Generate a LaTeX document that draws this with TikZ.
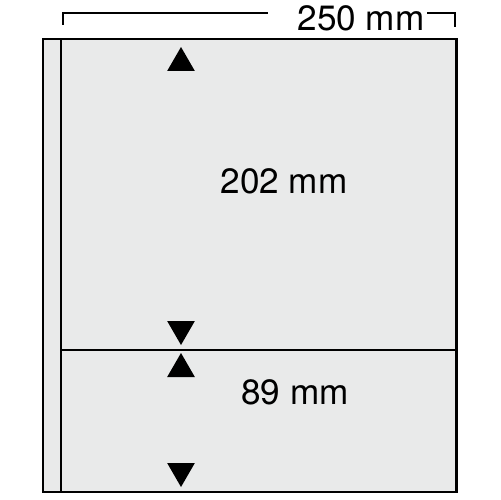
\documentclass[tikz,border=0pt]{standalone}
\usepackage{fontspec}
\setmainfont{TeX Gyre Heros}
\usetikzlibrary{shapes.geometric}
\definecolor{sheet}{RGB}{233,234,234}

\begin{document}
\begin{tikzpicture}[x=0.02cm,y=-0.02cm]
                \useasboundingbox (0,0) rectangle (500,500);
                % the sheet
                \fill[sheet] (43,39) rectangle (456,492);
                \draw[line width=1.7pt] (43,39) rectangle (456,492);
                \draw[line width=1.7pt] (61,39) -- (61,492);
                \draw[line width=0.9pt] (61,350) -- (456,350);
                \begin{scope}[every node/.style={regular polygon,regular polygon sides=3,fill=black,inner sep=0pt,minimum size=0.64cm}]
                    \node (U1) at (181,63) {};
                    \node (D1) [shape border rotate=180] at (181,329) {};
                    \node (U2) at (181,369) {};
                    \node (D2) [shape border rotate=180] at (181,471) {};
                \end{scope}
                \begin{scope}[every node/.style={font=\fontsize{20}{24}\selectfont,inner sep=0pt}]
                    \node (W) at (361,18) {250 mm};
                    \node (H1) at (284,181) {202 mm};
                    \node (H2) at (295,392) {89 mm};
                \end{scope}
                % width dimension
                \coordinate (L) at (63,25);
                \coordinate (R) at (455,27);
                \draw[line width=0.8pt] (L) |- (268,13);
                \draw[line width=0.8pt] (R) |- (427,13);
            \end{tikzpicture}
\end{document}
